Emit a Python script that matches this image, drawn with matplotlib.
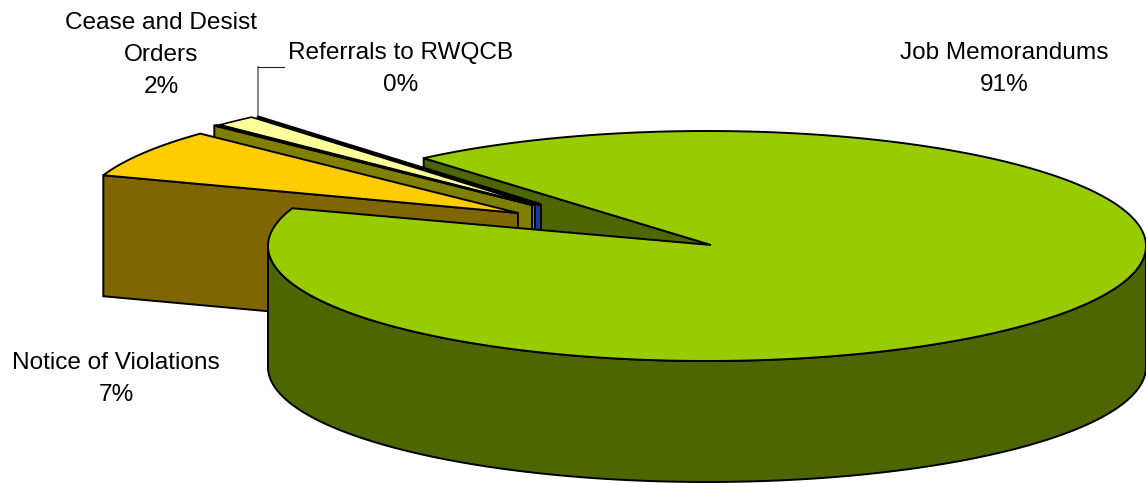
import numpy as np
import matplotlib
matplotlib.use("Agg")
import matplotlib.pyplot as plt
from matplotlib.patches import Polygon

plt.rcParams["font.family"] = ["Liberation Sans", "DejaVu Sans"]

# Share of enforcement actions, percent. The third slice carries no label.
categories = ["Job Memorandums", "Notice of Violations", "", "Cease and Desist\nOrders", "Referrals to RWQCB"]
shares = [91.49, 6.8, 0.15, 1.56, 0.0]

top_colors = ["#99CC00", "#FFCC00", "#A8A830", "#FFFF99", "#333399"]
wall_colors = ["#4D6600", "#806600", "#808000", "#808060", "#1A3C96"]
edge_widths = [1.4, 1.4, 1.2, 1.2, 2.6]

# pie geometry in pixels
hub_x, hub_y = 711, 245
rim_x, rim_y = 707, 246
rx, ry = 439, 115
depth = 121
start_angle = 130.2

# how far each slice is pulled out of the pie
offsets = [(0, 0), (-193, -32), (-179, -40), (-176, -40), (-170, -40)]
label_xy = [(1004, 69), (116, 379), None, (161, 55), (401, 69)]


def arc(a0, a1, n=200):
    t = np.radians(np.linspace(a0, a1, n))
    return np.cos(t) * rx, -np.sin(t) * ry


fig = plt.figure(figsize=(11.46, 4.83), dpi=100)
ax = fig.add_axes([0, 0, 1, 1])
ax.set_xlim(0, 1146)
ax.set_ylim(483, 0)
ax.axis("off")

# slice angles run clockwise from the start angle
ends = start_angle - np.cumsum(shares) * 3.6
starts = np.r_[start_angle, ends[:-1]]

# small slices back to front, each wall hangs off its clockwise cut edge
for i in [4, 3, 2, 1]:
    ox, oy = offsets[i]
    tip_x, tip_y = hub_x + ox, hub_y + oy
    xs, ys = arc(starts[i], ends[i])
    xs, ys = xs + tip_x, ys + tip_y
    wall = np.array([[xs[0], ys[0]], [tip_x, tip_y], [tip_x, tip_y + depth], [xs[0], ys[0] + depth]])
    ax.add_patch(Polygon(wall, fc=wall_colors[i], ec="black", lw=1.4, zorder=2))
    top = np.r_[np.c_[xs, ys], [[tip_x, tip_y]]]
    ax.add_patch(Polygon(top, fc=top_colors[i], ec="black", lw=edge_widths[i], zorder=2))

# big slice: inner wall seen through the notch, front rim, then the top
xs, ys = arc(starts[0], ends[0], 600)
xs, ys = xs + rim_x, ys + rim_y
inner = np.array([[xs[0], ys[0]], [hub_x, hub_y], [hub_x, hub_y + depth], [xs[0], ys[0] + depth]])
ax.add_patch(Polygon(inner, fc=wall_colors[0], ec="black", lw=1.4, zorder=1))

front_x, front_y = arc(180, 360, 300)
front_x, front_y = front_x + rim_x, front_y + rim_y
front = np.r_[np.c_[front_x, front_y], np.c_[front_x[::-1], front_y[::-1] + depth]]
ax.add_patch(Polygon(front, fc=wall_colors[0], ec="black", lw=1.4, zorder=3))

top = np.r_[np.c_[xs, ys], [[hub_x, hub_y]]]
ax.add_patch(Polygon(top, fc=top_colors[0], ec="black", lw=edge_widths[0], zorder=4))

# leader line for the thin slice
lx = hub_x + offsets[4][0] + np.cos(np.radians(starts[4])) * rx
ly = hub_y + offsets[4][1] - np.sin(np.radians(starts[4])) * ry
ax.plot([lx, lx], [ly, 67], color="#808080", lw=1.3, zorder=1)
ax.plot([lx, lx + 26], [67, 67], color="#202020", lw=0.8, zorder=1)

for name, share, xy in zip(categories, shares, label_xy):
    if xy is None:
        continue
    ax.text(xy[0], xy[1], f"{name}\n{share:.0f}%", ha="center", va="center", fontsize=17.6,
            linespacing=1.58, color="black", zorder=6)

fig.savefig("out.png", dpi=100)
